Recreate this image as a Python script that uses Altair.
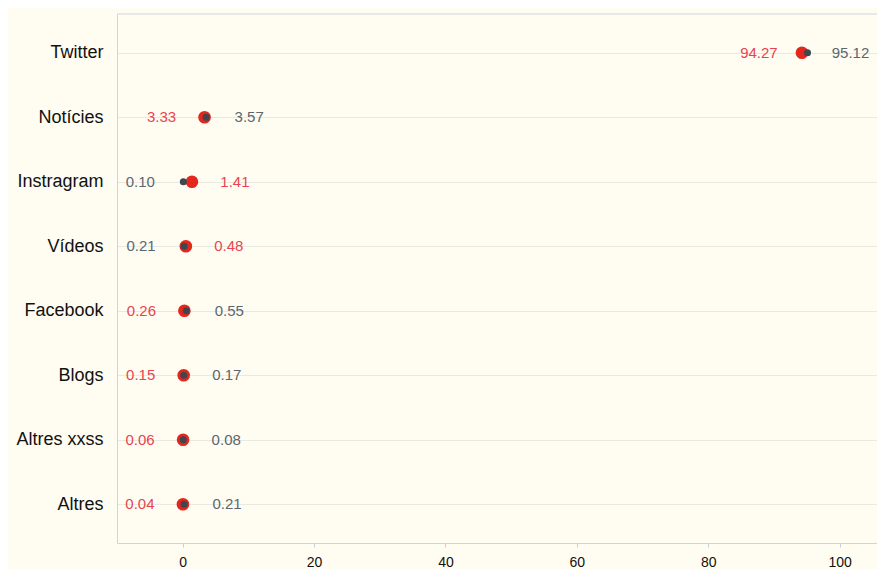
import altair as alt
import pandas as pd

categories = ["Twitter", "Notícies", "Instragram", "Vídeos", "Facebook", "Blogs", "Altres xxss", "Altres"]
red_values = [94.27, 3.33, 1.41, 0.48, 0.26, 0.15, 0.06, 0.04]
grey_values = [95.12, 3.57, 0.10, 0.21, 0.55, 0.17, 0.08, 0.21]
series_names = ["A", "B"]
x_ticks = [0, 20, 40, 60, 80, 100]

rows = []
for c, r, g in zip(categories, red_values, grey_values):
    rows.append({"category": c, "series": series_names[0], "value": r, "side": "left" if r <= g else "right"})
    rows.append({"category": c, "series": series_names[1], "value": g, "side": "left" if g < r else "right"})
df = pd.DataFrame(rows)

W, H = 760, 529
AX = "#cdd5da"
FONT = "Liberation Sans"

base = alt.Chart(df).encode(
    x=alt.X("value:Q",
            scale=alt.Scale(domain=[-10, 105.7], nice=False, zero=False),
            axis=alt.Axis(title=None, values=x_ticks, grid=False, domain=True, domainColor=AX,
                          tickColor="#c5d0da", tickSize=4, labelFontSize=14, labelPadding=8,
                          labelColor="#111111", labelFont=FONT, format="d")),
    y=alt.Y("category:N", sort=categories,
            scale=alt.Scale(padding=0.6),
            axis=alt.Axis(title=None, grid=True, gridColor="#e9e9e4", domain=True, domainColor=AX,
                          ticks=False, labelFontSize=18, labelColor="#111111", labelPadding=14,
                          labelFont=FONT)),
)

border = alt.Chart(pd.DataFrame({"k": [0]})).mark_rule(color=AX, strokeWidth=1).encode(
    x=alt.value(0), x2=alt.value(W), y=alt.value(0)
)

red_dots = base.transform_filter(alt.datum.series == series_names[0]).mark_circle(
    size=160, color="#e3271d", opacity=1)
grey_dots = base.transform_filter(alt.datum.series == series_names[1]).mark_circle(
    size=50, color="#40464f", opacity=1)

color_enc = alt.Color("series:N", scale=alt.Scale(domain=series_names, range=["#ea4350", "#5b6670"]), legend=None)

left_labels = base.transform_filter(alt.datum.side == "left").mark_text(
    dx=-43, align="center", baseline="middle", fontSize=15, font=FONT
).encode(text=alt.Text("value:Q", format=".2f"), color=color_enc)

right_labels = base.transform_filter(alt.datum.side == "right").mark_text(
    dx=43, align="center", baseline="middle", fontSize=15, font=FONT
).encode(text=alt.Text("value:Q", format=".2f"), color=color_enc)

chart = alt.layer(border, red_dots, grey_dots, left_labels, right_labels).properties(
    width=W, height=H,
    autosize=alt.AutoSizeParams(type="none"),
    padding={"left": 109, "top": 6, "right": 0, "bottom": 26},
    background="#fffdf2",
).configure_view(strokeWidth=0)

chart.save("out.html", embed_options={"renderer": "svg", "actions": False})
